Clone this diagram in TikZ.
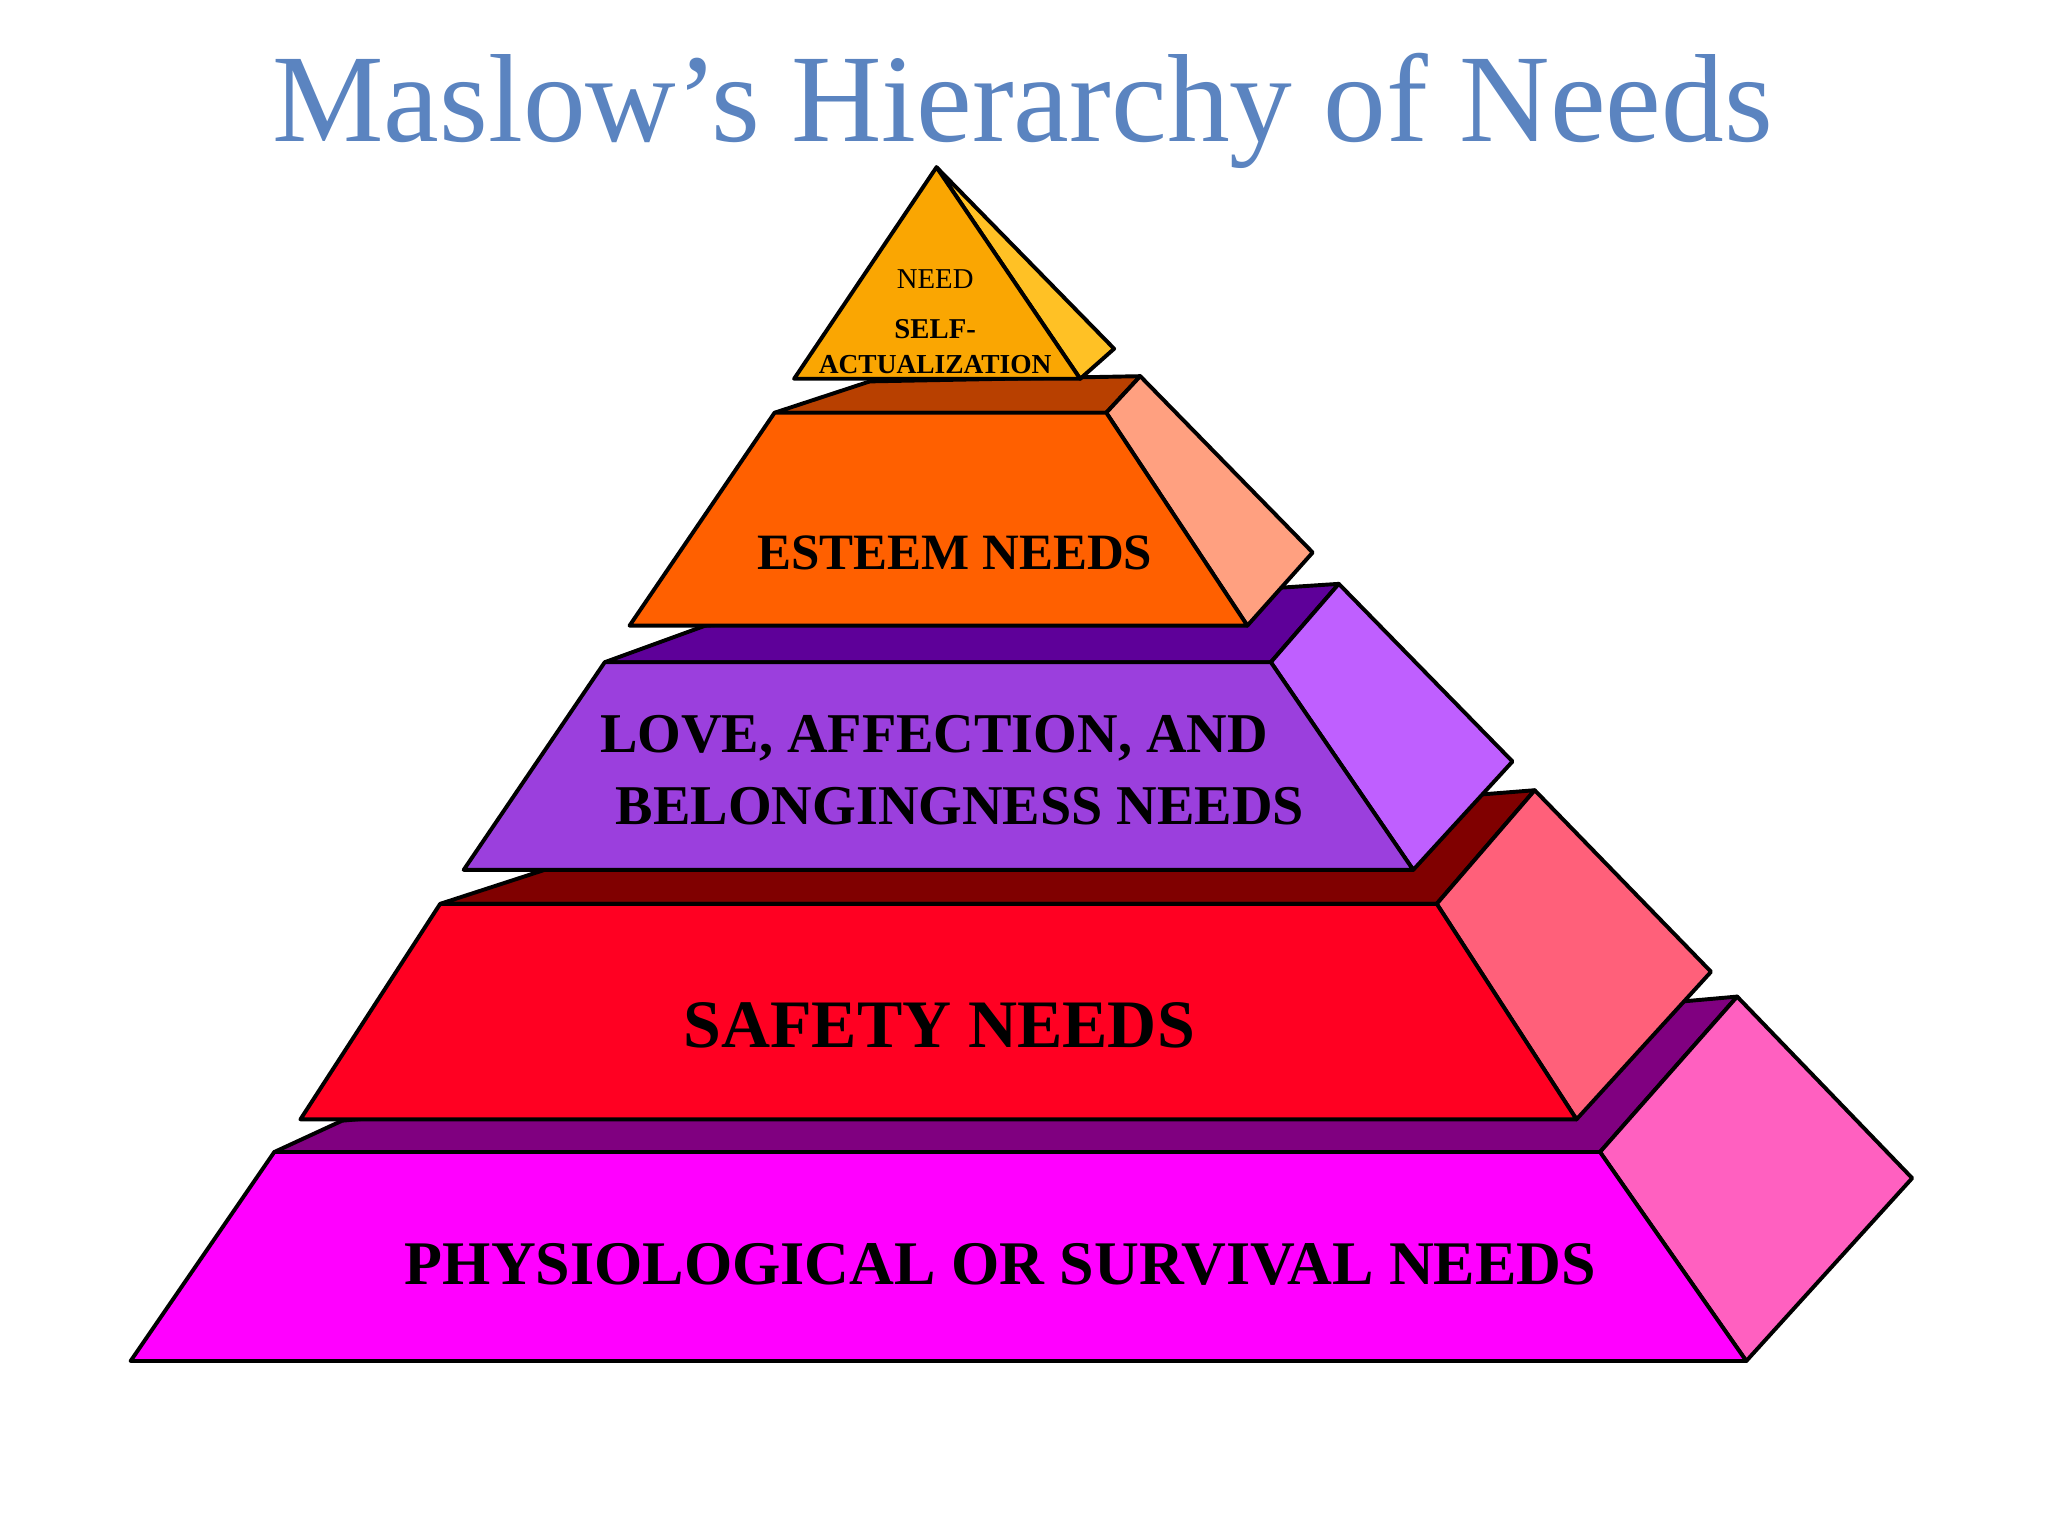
\documentclass[tikz,border=0pt]{standalone}
\usepackage{fontspec}
\setmainfont{Liberation Serif}
\begin{document}
\begin{tikzpicture}[x=1pt,y=-1pt,line width=3pt,line join=round,
  face/.style={draw=black},
  lbl/.style={font=\bfseries,align=center,inner sep=0pt}]
\definecolor{titlec}{HTML}{5B84C0}
\useasboundingbox (0,0) rectangle (1568,1176);
\node[text=titlec,font=\fontsize{96}{100}\selectfont] (title) at (783,85) {Maslow’s Hierarchy of Needs};
% physiological
\fill[face,fill={rgb,255:red,128;green,0;blue,128}] (210,882)--(262,858)--(1330,763)--(1225,882)--cycle;
\fill[face,fill={rgb,255:red,255;green,96;blue,192}] (1225,882)--(1330,763)--(1464,902)--(1337,1042)--cycle;
\fill[face,fill={rgb,255:red,255;green,0;blue,255}] (210,882)--(1225,882)--(1337,1042)--(100,1042)--cycle;
\node[lbl,font=\fontsize{47.5}{50}\selectfont\bfseries] (phys) at (766,968) {PHYSIOLOGICAL OR SURVIVAL NEEDS};
% safety
\fill[face,fill={rgb,255:red,128;green,0;blue,0}] (337,692)--(420,665)--(1175,605)--(1100,692)--cycle;
\fill[face,fill={rgb,255:red,255;green,96;blue,122}] (1100,692)--(1175,605)--(1310,744)--(1207,857)--cycle;
\fill[face,fill={rgb,255:red,255;green,0;blue,34}] (337,692)--(1100,692)--(1207,857)--(230,857)--cycle;
\node[lbl,font=\fontsize{52}{56}\selectfont\bfseries] (safe) at (719,785) {SAFETY NEEDS};
% love
\fill[face,fill={rgb,255:red,94;green,0;blue,153}] (463,507)--(540,479)--(1025,447)--(973,507)--cycle;
\fill[face,fill={rgb,255:red,191;green,95;blue,255}] (973,507)--(1025,447)--(1158,583)--(1082,666)--cycle;
\fill[face,fill={rgb,255:red,155;green,63;blue,221}] (463,507)--(973,507)--(1082,666)--(355,666)--cycle;
\node[lbl,font=\fontsize{43}{46}\selectfont\bfseries] (love1) at (715,565) {LOVE, AFFECTION, AND};
\node[lbl,font=\fontsize{43}{46}\selectfont\bfseries] (love2) at (735,617) {BELONGINGNESS NEEDS};
% esteem
\fill[face,fill={rgb,255:red,184;green,64;blue,0}] (593,316)--(666,292)--(873,288)--(847,316)--cycle;
\fill[face,fill={rgb,255:red,255;green,160;blue,128}] (847,316)--(873,288)--(1005,423)--(955,479)--cycle;
\fill[face,fill={rgb,255:red,255;green,96;blue,0}] (593,316)--(847,316)--(955,479)--(482,479)--cycle;
\node[lbl,font=\fontsize{39}{42}\selectfont\bfseries] (est) at (731,423) {ESTEEM NEEDS};
% top
\fill[face,fill={rgb,255:red,255;green,193;blue,37}] (717,128)--(853,267)--(827,290)--cycle;
\fill[face,fill={rgb,255:red,250;green,166;blue,2}] (717,128)--(827,290)--(608,290)--cycle;
\node[inner sep=0pt,font=\fontsize{22}{24}\selectfont] (need) at (716,214) {NEED};
\node[lbl,font=\fontsize{22}{24}\selectfont\bfseries] (self) at (716,252) {SELF-};
\node[lbl,font=\fontsize{21}{22}\selectfont\bfseries] (act) at (716,279) {ACTUALIZATION};
\end{tikzpicture}
\end{document}
